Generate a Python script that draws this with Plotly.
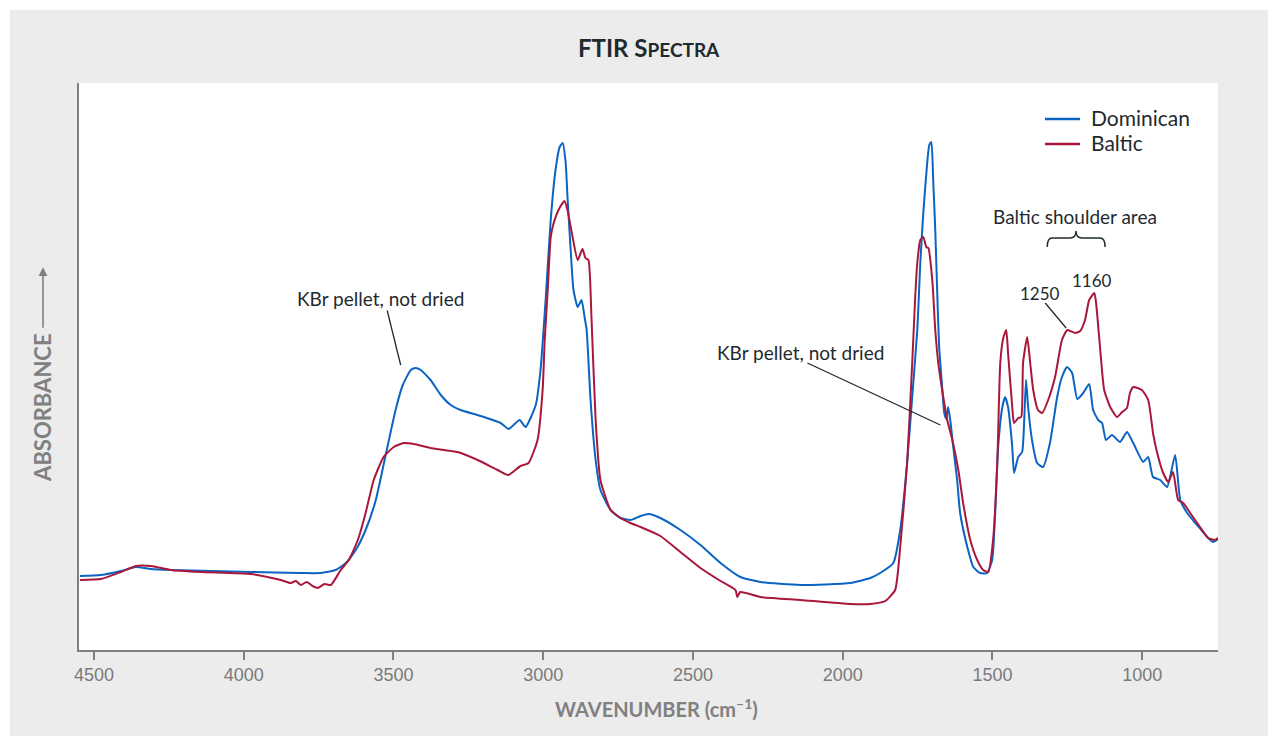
import plotly.graph_objects as go

# Wavenumber grid (cm^-1) and absorbance readings for each amber sample
dominican_wn = [4547, 4477, 4410, 4360, 4310, 4243, 3976, 3809, 3743, 3693, 3659, 3626, 3593, 3559,
                3526, 3493, 3469, 3442, 3426, 3409, 3376, 3342, 3309, 3276, 3209, 3142, 3116, 3079,
                3059, 3025, 3009, 2992, 2975, 2959, 2945, 2935, 2925, 2919, 2909, 2899, 2885, 2872,
                2862, 2855, 2842, 2825, 2809, 2775, 2742, 2709, 2675, 2649, 2609, 2542, 2475, 2408,
                2342, 2275, 2141, 1975, 1908, 1875, 1831, 1808, 1785, 1768, 1751, 1741, 1731, 1718,
                1711, 1704, 1698, 1691, 1684, 1678, 1668, 1661, 1654, 1648, 1641, 1631, 1618, 1608,
                1584, 1564, 1541, 1518, 1501, 1491, 1481, 1467, 1458, 1448, 1434, 1428, 1414, 1401,
                1394, 1388, 1381, 1368, 1351, 1331, 1308, 1284, 1268, 1251, 1234, 1217, 1197, 1177,
                1164, 1147, 1134, 1121, 1101, 1074, 1051, 1030, 997, 980, 964, 940, 917, 890, 873,
                850, 817, 783, 763, 747]
dominican_abs = [0.148, 0.150, 0.158, 0.166, 0.162, 0.160, 0.156, 0.154, 0.154, 0.160, 0.174, 0.200,
                 0.240, 0.300, 0.390, 0.480, 0.530, 0.560, 0.564, 0.560, 0.540, 0.510, 0.490, 0.480,
                 0.468, 0.454, 0.442, 0.460, 0.446, 0.490, 0.560, 0.700, 0.860, 0.960, 1.006, 1.014,
                 0.974, 0.906, 0.806, 0.720, 0.686, 0.700, 0.666, 0.640, 0.500, 0.380, 0.320, 0.280,
                 0.264, 0.260, 0.268, 0.272, 0.264, 0.240, 0.210, 0.174, 0.146, 0.136, 0.130, 0.134,
                 0.144, 0.154, 0.174, 0.240, 0.374, 0.506, 0.640, 0.774, 0.874, 0.974, 1.010, 1.016,
                 0.940, 0.840, 0.706, 0.606, 0.526, 0.474, 0.462, 0.486, 0.460, 0.406, 0.340, 0.274,
                 0.206, 0.166, 0.154, 0.154, 0.180, 0.274, 0.406, 0.486, 0.506, 0.486, 0.406, 0.354,
                 0.386, 0.396, 0.460, 0.540, 0.486, 0.420, 0.374, 0.366, 0.414, 0.506, 0.546, 0.566,
                 0.554, 0.502, 0.514, 0.532, 0.480, 0.460, 0.454, 0.420, 0.430, 0.416, 0.436, 0.414,
                 0.376, 0.386, 0.346, 0.340, 0.326, 0.390, 0.300, 0.274, 0.250, 0.226, 0.216, 0.222]

baltic_wn = [4547, 4477, 4410, 4360, 4310, 4243, 4143, 3976, 3876, 3843, 3826, 3809, 3790, 3770,
             3753, 3730, 3709, 3676, 3649, 3619, 3593, 3566, 3533, 3499, 3466, 3432, 3376, 3286,
             3219, 3152, 3116, 3076, 3049, 3019, 3002, 2995, 2985, 2975, 2965, 2949, 2929, 2919,
             2902, 2885, 2869, 2859, 2849, 2839, 2825, 2809, 2775, 2742, 2709, 2675, 2609, 2542,
             2475, 2408, 2358, 2352, 2342, 2275, 2141, 1975, 1908, 1858, 1825, 1808, 1785, 1768,
             1758, 1751, 1741, 1731, 1721, 1714, 1701, 1691, 1681, 1668, 1651, 1634, 1614, 1598,
             1574, 1551, 1531, 1514, 1498, 1484, 1474, 1464, 1454, 1448, 1434, 1428, 1414, 1404,
             1398, 1384, 1374, 1364, 1348, 1334, 1314, 1291, 1268, 1250, 1224, 1207, 1191, 1177,
             1160, 1154, 1141, 1127, 1107, 1084, 1067, 1051, 1041, 1030, 1001, 980, 964, 950,
             930, 913, 897, 880, 863, 840, 807, 780, 757, 747]
baltic_abs = [0.140, 0.142, 0.156, 0.168, 0.168, 0.160, 0.156, 0.152, 0.140, 0.134, 0.138, 0.130,
              0.136, 0.128, 0.124, 0.132, 0.130, 0.160, 0.180, 0.220, 0.274, 0.340, 0.386, 0.406,
              0.414, 0.412, 0.404, 0.396, 0.380, 0.360, 0.350, 0.368, 0.374, 0.420, 0.520, 0.620,
              0.720, 0.826, 0.854, 0.880, 0.898, 0.880, 0.826, 0.780, 0.802, 0.784, 0.780, 0.666,
              0.460, 0.340, 0.280, 0.264, 0.254, 0.246, 0.228, 0.196, 0.164, 0.138, 0.120, 0.106,
              0.116, 0.106, 0.100, 0.092, 0.092, 0.098, 0.120, 0.206, 0.374, 0.574, 0.706, 0.774,
              0.820, 0.826, 0.806, 0.804, 0.740, 0.640, 0.574, 0.520, 0.460, 0.420, 0.360, 0.294,
              0.220, 0.180, 0.160, 0.156, 0.220, 0.374, 0.574, 0.624, 0.640, 0.594, 0.486, 0.454,
              0.464, 0.466, 0.574, 0.626, 0.574, 0.520, 0.480, 0.474, 0.500, 0.546, 0.620, 0.640,
              0.634, 0.638, 0.660, 0.700, 0.714, 0.694, 0.606, 0.520, 0.486, 0.466, 0.476, 0.484,
              0.514, 0.526, 0.520, 0.500, 0.434, 0.394, 0.354, 0.336, 0.356, 0.300, 0.294, 0.274,
              0.246, 0.224, 0.220, 0.224]

x_ticks = [4500, 4000, 3500, 3000, 2500, 2000, 1500, 1000]
series_names = ["Dominican", "Baltic"]

BLUE = "#0b64c2"
RED = "#a9173b"
TEXT = "#1f2a2e"
AXIS_GRAY = "#808080"
PANEL = "#ececec"
FONT = "Lato"

fig = go.Figure()
fig.add_trace(go.Scatter(x=dominican_wn, y=dominican_abs, mode="lines", name=series_names[0],
                         line=dict(color=BLUE, width=2, shape="spline", smoothing=0.5)))
fig.add_trace(go.Scatter(x=baltic_wn, y=baltic_abs, mode="lines", name=series_names[1],
                         line=dict(color=RED, width=2, shape="spline", smoothing=0.5)))

annotations = [
    # title with small-caps styling
    dict(xref="paper", yref="paper", x=0.5, y=1.0, yshift=36, showarrow=False,
         text="<b>FTIR S<span style='font-size:19px'>PECTRA</span></b>",
         font=dict(family=FONT, size=24, color=TEXT), xanchor="center", yanchor="middle"),
    dict(xref="paper", yref="paper", x=0.5, y=0, xshift=8, yshift=-58, showarrow=False,
         text="<b>WAVENUMBER (cm<sup>–1</sup>)</b>",
         font=dict(family=FONT, size=20, color=AXIS_GRAY), xanchor="center", yanchor="middle"),
    dict(xref="paper", yref="paper", x=0, xshift=-36, y=0.427, showarrow=False,
         text="<b>ABSORBANCE</b>", textangle=-90,
         font=dict(family=FONT, size=22, color=AXIS_GRAY), xanchor="center", yanchor="middle"),
    # arrow above the axis label
    dict(xref="paper", yref="paper", x=0, xshift=-36, y=0.675, ax=0, ay=62, axref="pixel",
         showarrow=True, arrowhead=2, arrowsize=1.1, arrowwidth=1.6, arrowcolor=AXIS_GRAY, text=""),
    dict(x=3543, y=0.704, text="KBr pellet, not dried", showarrow=False,
         font=dict(family=FONT, size=19, color=TEXT)),
    dict(x=2141, y=0.596, text="KBr pellet, not dried", showarrow=False,
         font=dict(family=FONT, size=19, color=TEXT)),
    dict(x=1341, y=0.714, text="1250", showarrow=False, font=dict(family=FONT, size=17, color=TEXT)),
    dict(x=1167, y=0.740, text="1160", showarrow=False, font=dict(family=FONT, size=17, color=TEXT)),
    dict(x=1224, y=0.868, text="Baltic shoulder area", showarrow=False,
         font=dict(family=FONT, size=19, color=TEXT)),
    # legend labels
    dict(xref="paper", yref="paper", x=0.8867, y=0.9383, text=series_names[0], showarrow=False,
         xanchor="left", yanchor="middle", font=dict(family=FONT, size=21, color=TEXT)),
    dict(xref="paper", yref="paper", x=0.8867, y=0.8942, text=series_names[1], showarrow=False,
         xanchor="left", yanchor="middle", font=dict(family=FONT, size=21, color=TEXT)),
]

shapes = [
    # leader lines
    dict(type="line", x0=3521, y0=0.679, x1=3476, y1=0.570, line=dict(color=TEXT, width=1.3)),
    dict(type="line", x0=2118, y0=0.574, x1=1674, y1=0.450, line=dict(color=TEXT, width=1.3)),
    dict(type="line", x0=1324, y0=0.694, x1=1254, y1=0.644, line=dict(color=TEXT, width=1.3)),
    # curly brace over the shoulder region
    dict(type="path",
         path="M 1317,0.806 Q 1317,0.824 1301,0.824 L 1241,0.824 Q 1221,0.824 1221,0.838 "
              "Q 1221,0.824 1201,0.824 L 1141,0.824 Q 1124,0.824 1124,0.806",
         line=dict(color=TEXT, width=1.5)),
    # legend keys
    dict(type="line", xref="paper", yref="paper", x0=0.8481, x1=0.8789, y0=0.9365, y1=0.9365,
         line=dict(color=BLUE, width=2.5)),
    dict(type="line", xref="paper", yref="paper", x0=0.8481, x1=0.8789, y0=0.8924, y1=0.8924,
         line=dict(color=RED, width=2.5)),
    # white page border around the grey panel
    dict(type="rect", xref="paper", yref="paper", x0=-0.1, x1=1.1, y0=1.1287, y1=1.2,
         fillcolor="white", line=dict(width=0)),
    dict(type="rect", xref="paper", yref="paper", x0=-0.1, x1=-0.0606, y0=-0.2, y1=1.2,
         fillcolor="white", line=dict(width=0)),
    dict(type="rect", xref="paper", yref="paper", x0=1.0439, x1=1.1, y0=-0.2, y1=1.2,
         fillcolor="white", line=dict(width=0)),
]

fig.update_layout(
    width=1278, height=736,
    margin=dict(l=79, r=60, t=83, b=86),
    paper_bgcolor=PANEL, plot_bgcolor="white",
    font=dict(family=FONT),
    showlegend=False,
    annotations=annotations, shapes=shapes,
    xaxis=dict(range=[4550, 747], tickvals=x_ticks, showgrid=False, zeroline=False,
               showline=True, linecolor=AXIS_GRAY, linewidth=1.5, ticks="outside",
               ticklen=8, tickwidth=1.5, tickcolor=AXIS_GRAY,
               tickfont=dict(family="Liberation Sans", size=18, color="#7a7a7a")),
    yaxis=dict(range=[0, 1.134], showgrid=False, zeroline=False, showticklabels=False,
               showline=True, linecolor=AXIS_GRAY, linewidth=1.5, ticks=""),
)

fig.write_html("out.html")
